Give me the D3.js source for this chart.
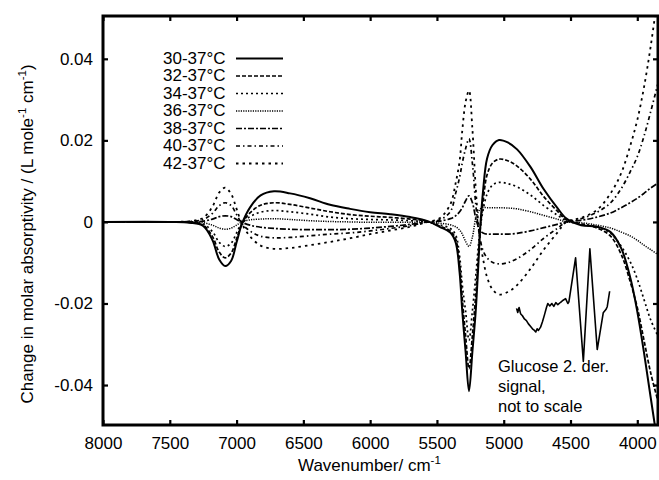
<!DOCTYPE html>
<html>
<head>
<meta charset="utf-8">
<script src="https://cdn.jsdelivr.net/npm/d3@7"></script>
<style>
  body { margin: 0; background: #fff; }
  svg text { font-family: "Liberation Sans", Arial, Helvetica, sans-serif; fill: #000; }
</style>
</head>
<body>
<div class="chart"></div>
<script>
// wavenumber grid (cm-1) shared by all difference spectra
var wavenumbers = [8000, 7500, 7350, 7250, 7180, 7130, 7085, 7040, 7000, 6960, 6900, 6820, 6720, 6600, 6450, 6300, 6150, 6000, 5850, 5700,
  5570, 5480, 5400, 5360, 5330, 5310, 5285, 5260, 5235, 5210, 5190, 5175, 5155, 5125, 5085, 5035,
  4970, 4900, 4800, 4700, 4600, 4530,
  4420, 4300, 4200, 4120, 4050, 4000, 3950, 3900, 3845];

var d30 = [0, 0, -0.0002, -0.001, -0.0045, -0.0092, -0.0108, -0.0095, -0.005, -0.0005, 0.0035, 0.0065, 0.0075, 0.007, 0.0058, 0.0042, 0.0032, 0.0024, 0.0019, 0.0012,
  0.0002, -0.0012, -0.0026, -0.005, -0.0125, -0.022, -0.032, -0.0415, -0.032, -0.022, -0.0105, -0.001, 0.0075, 0.0155, 0.0188, 0.0201,
  0.0195, 0.0178, 0.0135, 0.008, 0.0035, 0.0008,
  -0.0008, -0.0012, -0.0025, -0.0065, -0.014, -0.022, -0.032, -0.043, -0.055];
var d32 = [0, 0, -0.0001, -0.0008, -0.0036, -0.0074, -0.0088, -0.0076, -0.0041, -0.0005, 0.0022, 0.0041, 0.0047, 0.0043, 0.0034, 0.0025, 0.0018, 0.0014, 0.0011, 0.0007,
  0.0001, -0.001, -0.0022, -0.0042, -0.0105, -0.019, -0.028, -0.036, -0.028, -0.018, -0.0085, -0.0015, 0.0048, 0.0115, 0.0144, 0.0154,
  0.015, 0.0137, 0.0105, 0.0062, 0.0027, 0.0005,
  -0.0005, -0.0015, -0.0035, -0.008, -0.015, -0.021, -0.029, -0.037, -0.044];
var d34 = [0, 0, -0.0001, -0.0005, -0.0024, -0.005, -0.006, -0.0052, -0.0027, -0.0003, 0.0013, 0.0024, 0.0028, 0.0025, 0.0019, 0.0012, 0.0008, 0.0006, 0.0005, 0.0003,
  0, -0.0007, -0.0016, -0.0032, -0.0085, -0.0155, -0.022, -0.029, -0.022, -0.0135, -0.006, -0.0012, 0.0028, 0.0068, 0.009, 0.0097,
  0.0094, 0.0086, 0.0066, 0.004, 0.0017, 0.0003,
  -0.0005, -0.0012, -0.0028, -0.006, -0.01, -0.014, -0.019, -0.024, -0.028];
var d36 = [0, 0, 0, -0.0002, -0.0008, -0.0015, -0.0018, -0.0015, -0.0008, 0, 0.0005, 0.0007, 0.0008, 0.0006, 0.0003, 0.0001, 0, -0.0001, -0.0001, -0.0001,
  0, -0.0003, -0.0007, -0.0012, -0.002, -0.003, -0.0048, -0.006, -0.0038, 0.0008, 0.0025, 0.0032, 0.0035, 0.0035, 0.0035, 0.0035,
  0.0034, 0.0032, 0.0025, 0.0016, 0.0007, 0,
  -0.0002, -0.0008, -0.0015, -0.0025, -0.0035, -0.0045, -0.0057, -0.0068, -0.008];
var d38 = [0, 0, 0, 0.0002, 0.0007, 0.0013, 0.0015, 0.0013, 0.0006, -0.0001, -0.0008, -0.0013, -0.0016, -0.0018, -0.0019, -0.0019, -0.0018, -0.0015, -0.0011, -0.0006,
  0, 0.0002, 0.0008, 0.0015, 0.0025, 0.0035, 0.0052, 0.0064, 0.0048, 0.001, -0.0012, -0.0022, -0.0027, -0.003, -0.003, -0.003,
  -0.003, -0.0028, -0.0022, -0.0014, -0.0006, 0,
  0.0004, 0.0012, 0.0022, 0.0035, 0.0048, 0.0058, 0.007, 0.0083, 0.0095];
var d40 = [0, 0, 0.0001, 0.0006, 0.0021, 0.004, 0.0047, 0.004, 0.0018, -0.0004, -0.0022, -0.0035, -0.0039, -0.0038, -0.0034, -0.003, -0.0027, -0.0022, -0.0016, -0.0009,
  0, 0.0005, 0.0025, 0.007, 0.011, 0.0145, 0.018, 0.0204, 0.0145, 0.0045, -0.0015, -0.0045, -0.007, -0.0088, -0.0099, -0.0103,
  -0.01, -0.009, -0.0068, -0.004, -0.0016, 0,
  0.0008, 0.0024, 0.0047, 0.0082, 0.0125, 0.016, 0.021, 0.027, 0.034];
var d42 = [0, 0, 0.0002, 0.001, 0.0038, 0.0072, 0.0084, 0.0068, 0.0032, -0.0004, -0.0035, -0.0058, -0.0066, -0.0064, -0.0057, -0.0049, -0.004, -0.003, -0.0021, -0.0012,
  0, 0.0009, 0.0043, 0.0095, 0.015, 0.0225, 0.0295, 0.0322, 0.023, 0.0085, -0.0005, -0.005, -0.009, -0.0135, -0.0165, -0.0178,
  -0.0172, -0.0155, -0.0115, -0.0068, -0.0027, 0,
  0.001, 0.003, 0.007, 0.012, 0.019, 0.025, 0.033, 0.043, 0.056];

var seriesLabels = ["30-37°C", "32-37°C", "34-37°C", "36-37°C", "38-37°C", "40-37°C", "42-37°C"];

// glucose second derivative inset (drawn in plot units, not to scale)
var glucoseWavenumbers = [4904, 4895, 4885, 4874, 4860, 4845, 4830, 4815, 4800, 4785, 4770, 4760, 4750, 4740, 4724, 4710, 4695, 4680,
  4670, 4655, 4640, 4625, 4610, 4595, 4574, 4555, 4537, 4520, 4512, 4462, 4404, 4355, 4300, 4255, 4235, 4225, 4207];
var glucoseValues = [-0.0212, -0.0222, -0.021, -0.0225, -0.023, -0.0238, -0.0242, -0.025, -0.0256, -0.0262, -0.0266, -0.027, -0.0262, -0.0266, -0.0258, -0.0245, -0.0228, -0.021,
  -0.02, -0.0206, -0.02, -0.0207, -0.0198, -0.0203, -0.0197, -0.0192, -0.0188, -0.02, -0.0196, -0.0088, -0.0342, -0.0066, -0.0313, -0.0223, -0.0215, -0.0208, -0.017];

var xTicks = [8000, 7500, 7000, 6500, 6000, 5500, 5000, 4500, 4000];
var yTicks = [-0.04, -0.02, 0, 0.02, 0.04];
var yTickLabels = ["-0.04", "-0.02", "0", "0.02", "0.04"];

var allSeries = [d30, d32, d34, d36, d38, d40, d42];
var dashes = [null, "4,2", "2,3", "1.2,1.2", "6,2,2,2", "4,3,1.5,3", "2.5,4"];
var widths = [2, 1.7, 1.7, 1.5, 1.7, 1.7, 1.8];

var baseWidth = 659, baseHeight = 480;
var plot = { left: 103, right: 658, top: 16, bottom: 425 };

var xScale = d3.scaleLinear().domain([8000, 3845]).range([plot.left, plot.right]);
var yScale = d3.scaleLinear().domain([-0.0498, 0.0505]).range([plot.bottom, plot.top]);

var svg = d3.select(".chart").append("svg")
  .attr("width", baseWidth)
  .attr("height", baseHeight);

svg.append("defs").append("clipPath").attr("id", "clip")
  .append("rect")
  .attr("x", plot.left).attr("y", plot.top)
  .attr("width", plot.right - plot.left).attr("height", plot.bottom - plot.top);

// axes, ticks inside on all four sides
var xAxis = d3.axisBottom(xScale).tickValues(xTicks).tickSize(-5).tickPadding(12).tickFormat(d3.format("d"));
var yAxis = d3.axisLeft(yScale).tickValues(yTicks).tickSize(-5).tickPadding(10)
  .tickFormat(function(d, i) { return yTickLabels[i]; });

svg.append("g").attr("class", "x axis")
  .attr("transform", "translate(0," + plot.bottom + ")")
  .call(xAxis);
svg.append("g").attr("class", "x axis top")
  .attr("transform", "translate(0," + plot.top + ")")
  .call(d3.axisTop(xScale).tickValues(xTicks).tickSize(-5).tickFormat(""));
svg.append("g").attr("class", "y axis")
  .attr("transform", "translate(" + plot.left + ",0)")
  .call(yAxis);
svg.append("g").attr("class", "y axis right")
  .attr("transform", "translate(" + plot.right + ",0)")
  .call(d3.axisRight(yScale).tickValues(yTicks).tickSize(-5).tickFormat(""));

svg.selectAll(".axis .domain").remove();
svg.selectAll(".axis line").attr("stroke", "#000").attr("stroke-width", 2.2);
svg.selectAll(".axis text").style("font-size", "17px").attr("fill", "#000");

// spectra
var line = d3.line()
  .x(function(d) { return xScale(d[0]); })
  .y(function(d) { return yScale(d[1]); })
  .curve(d3.curveCatmullRom.alpha(0.5));

var lines = svg.append("g").attr("clip-path", "url(#clip)");

lines.selectAll(".spectrum")
  .data(allSeries)
  .enter()
  .append("path")
  .attr("class", "spectrum")
  .attr("fill", "none")
  .attr("stroke", "#000")
  .attr("stroke-width", function(d, i) { return widths[i]; })
  .attr("stroke-dasharray", function(d, i) { return dashes[i]; })
  .attr("d", function(vals) {
    return line(wavenumbers.map(function(w, j) { return [w, vals[j]]; }));
  });

lines.append("path")
  .attr("fill", "none")
  .attr("stroke", "#000")
  .attr("stroke-width", 1.6)
  .attr("stroke-linejoin", "round")
  .attr("d", d3.line()
    .x(function(d) { return xScale(d[0]); })
    .y(function(d) { return yScale(d[1]); })(glucoseWavenumbers.map(function(w, j) { return [w, glucoseValues[j]]; })));

// frame
svg.append("rect")
  .attr("x", plot.left).attr("y", plot.top)
  .attr("width", plot.right - plot.left).attr("height", plot.bottom - plot.top)
  .attr("fill", "none").attr("stroke", "#000").attr("stroke-width", 3);

// legend
var legend = svg.append("g").attr("class", "legend");
var legendRow = legend.selectAll("g")
  .data(seriesLabels)
  .enter()
  .append("g")
  .attr("transform", function(d, i) { return "translate(0," + (63.5 + i * 17.5) + ")"; });

legendRow.append("text")
  .attr("x", 163)
  .attr("y", 0)
  .style("font-size", "17px")
  .text(function(d) { return d; });

legendRow.append("line")
  .attr("x1", 236).attr("x2", 283)
  .attr("y1", -5).attr("y2", -5)
  .attr("stroke", "#000")
  .attr("stroke-width", function(d, i) { return widths[i]; })
  .attr("stroke-dasharray", function(d, i) { return dashes[i]; });

// inset annotation
var note = svg.append("text").style("font-size", "16.5px");
["Glucose 2. der.", "signal,", "not to scale"].forEach(function(t, i) {
  note.append("tspan").attr("x", 498).attr("y", 371.5 + i * 20).text(t);
});

// text label for the x axis
var xLabel = svg.append("text")
  .attr("x", 298)
  .attr("y", 471)
  .style("font-size", "17px");
xLabel.append("tspan").text("Wavenumber/ cm");
xLabel.append("tspan").attr("dy", -7).style("font-size", "11.5px").text("-1");

// text label for the y axis
var yLabel = svg.append("text")
  .attr("transform", "translate(33,234) rotate(-90)")
  .attr("text-anchor", "middle")
  .style("font-size", "17px");
yLabel.append("tspan").text("Change in molar absorptivity / (L mole");
yLabel.append("tspan").attr("dy", -7).style("font-size", "11.5px").text("-1");
yLabel.append("tspan").attr("dy", 7).text("  cm");
yLabel.append("tspan").attr("dy", -7).style("font-size", "11.5px").text("-1");
yLabel.append("tspan").attr("dy", 7).text(")");
</script>
</body>
</html>
